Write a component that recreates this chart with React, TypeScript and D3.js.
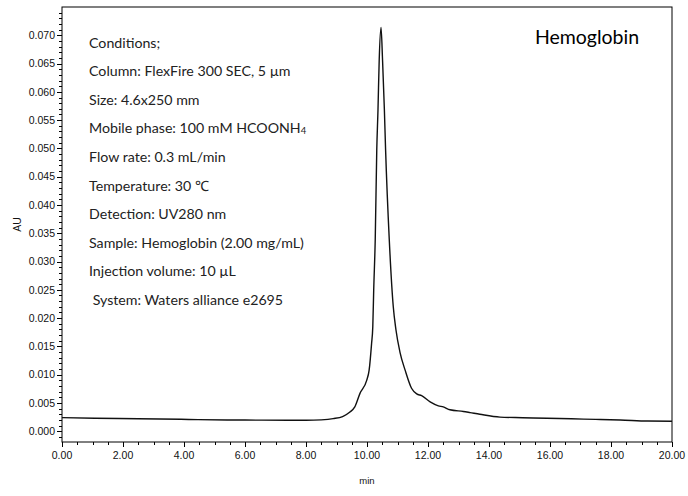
import React from 'react';
import * as d3 from 'd3';

// retention time (min) and absorbance (AU)
const times = [
  0, 1.08, 2.5, 3.9, 4.46, 6.0, 7.4, 8.0, 8.5, 8.89, 9.2, 9.44, 9.6, 9.77, 9.99, 10.07,
  10.15, 10.19, 10.22, 10.27, 10.32, 10.36, 10.40, 10.46, 10.51, 10.57, 10.61, 10.73,
  10.86, 10.95, 11.08, 11.25, 11.46, 11.63, 11.79, 12.07, 12.34, 12.5, 12.72, 13.16,
  13.38, 13.7, 14.36, 15.1, 15.9, 16.7, 17.5, 18.3, 19.2, 20,
];
const absorbance = [
  0.00241, 0.0023, 0.00222, 0.00212, 0.00205, 0.00198, 0.00194, 0.00194, 0.00202, 0.00223,
  0.0026, 0.0034, 0.0043, 0.0067, 0.0090, 0.0108, 0.0155, 0.0185, 0.025, 0.0339, 0.0497,
  0.0568, 0.0656, 0.0714, 0.0656, 0.0568, 0.0497, 0.0339, 0.0221, 0.0179, 0.0140, 0.0108,
  0.0076, 0.0066, 0.0063, 0.0052, 0.0045, 0.0043, 0.0038, 0.0035, 0.0033, 0.0030, 0.0025,
  0.0024, 0.0023, 0.0022, 0.0021, 0.0020, 0.0018, 0.00176,
];

const xTickValues = [0, 2, 4, 6, 8, 10, 12, 14, 16, 18, 20];
const yTickValues = [0, 0.005, 0.01, 0.015, 0.02, 0.025, 0.03, 0.035, 0.04, 0.045, 0.05, 0.055, 0.06, 0.065, 0.07];

const conditions = [
  'Conditions;',
  'Column: FlexFire 300 SEC, 5 µm',
  'Size: 4.6x250 mm',
  'Mobile phase: 100 mM HCOONH',
  'Flow rate: 0.3 mL/min',
  'Temperature: 30 ℃',
  'Detection: UV280 nm',
  'Sample: Hemoglobin (2.00 mg/mL)',
  'Injection volume: 10 µL',
  ' System: Waters alliance e2695',
];
const title = 'Hemoglobin';

export default function App() {
  const W = 688, H = 496;
  const left = 62, right = 672, top = 7, bottom = 442;

  const x = d3.scaleLinear().domain([0, 20]).range([left, right]);
  const y = d3.scaleLinear().domain([-0.0019, 0.075]).range([bottom, top]);

  const pts: [number, number][] = times.map((t, i) => [t, absorbance[i]]);
  const line = d3.line<[number, number]>()
    .x(d => x(d[0]))
    .y(d => y(d[1]))
    .curve(d3.curveMonotoneX);

  const xMinor = d3.range(0, 20.01, 0.5);
  const yMinor = d3.range(-1, 75).map(v => v / 1000);

  const tickFont = '"Liberation Sans", Arial, sans-serif';
  const textFont = 'Lato, "Noto Sans", sans-serif';

  return (
    <svg width={W} height={H} style={{position: 'absolute', left: 0, top: 0, background: '#fff'}}>
      {/* frame */}
      <rect x={left} y={top} width={right - left} height={bottom - top} fill="none" stroke="#000" strokeWidth={1} />

      {/* ticks */}
      <g stroke="#000" strokeWidth={1}>
        {yMinor.map((v, i) => (
          <line key={'ym' + i} x1={left - 3} x2={left} y1={Math.round(y(v)) + 0.5} y2={Math.round(y(v)) + 0.5} />
        ))}
        {yTickValues.map((v, i) => (
          <line key={'yM' + i} x1={left - 5} x2={left} y1={Math.round(y(v)) + 0.5} y2={Math.round(y(v)) + 0.5} />
        ))}
        {xMinor.map((v, i) => (
          <line key={'xm' + i} x1={Math.round(x(v)) + 0.5} x2={Math.round(x(v)) + 0.5} y1={bottom} y2={bottom + 3} />
        ))}
        {xTickValues.map((v, i) => (
          <line key={'xM' + i} x1={Math.round(x(v)) + 0.5} x2={Math.round(x(v)) + 0.5} y1={bottom} y2={bottom + 5} />
        ))}
      </g>

      <g fontFamily={tickFont} fontSize={10.5} fill="#111">
        {yTickValues.map((v, i) => (
          <text key={'yl' + i} x={55} y={y(v)} dy="0.35em" textAnchor="end">{d3.format('.3f')(v)}</text>
        ))}
        {xTickValues.map((v, i) => (
          <text key={'xl' + i} x={x(v)} y={459} textAnchor="middle">{d3.format('.2f')(v)}</text>
        ))}
        <text x={(left + right) / 2} y={484} textAnchor="middle" fontSize={9.5}>min</text>
        <text transform={`translate(21,${(top + bottom) / 2}) rotate(-90)`} textAnchor="middle" fontSize={10.5}>AU</text>
      </g>

      {/* chromatogram */}
      <path d={line(pts) || ''} fill="none" stroke="#111" strokeWidth={1.4} strokeLinejoin="round" />

      {/* conditions */}
      <g fontFamily={textFont} fontSize={14.2} fill="#222">
        {conditions.map((c, i) => (
          <text key={'c' + i} x={89} y={47.5 + i * 28.6} style={{whiteSpace: 'pre'}} xmlSpace="preserve">
            {c}
            {i === 3 ? <tspan fontSize={9.5} dy={1}>4</tspan> : null}
          </text>
        ))}
      </g>
      <text x={587} y={44} textAnchor="middle" fontFamily={textFont} fontSize={19.5} fill="#000">{title}</text>
    </svg>
  );
}
